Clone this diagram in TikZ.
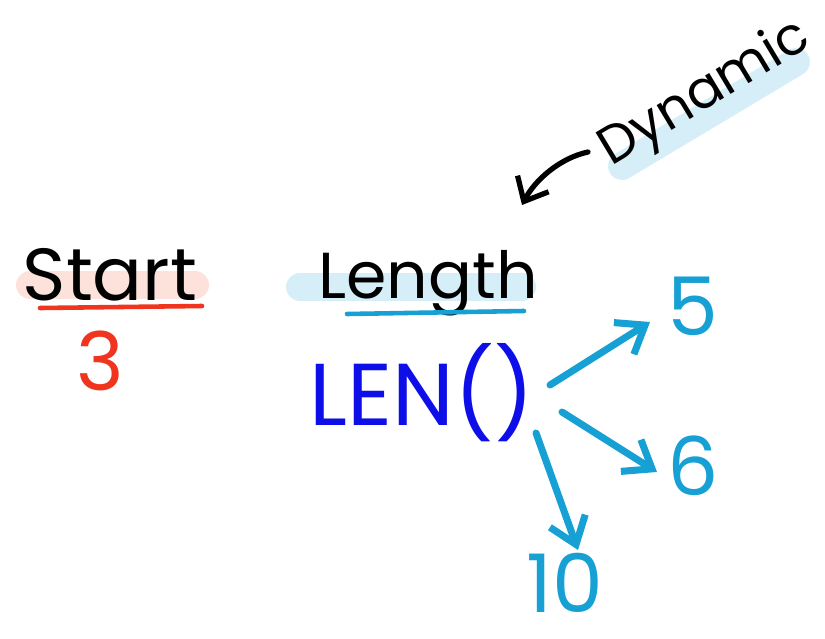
\documentclass[tikz,border=0pt]{standalone}
\usepackage{fontspec}
\setmainfont{Poppins}
\usepackage{tikz}
\usetikzlibrary{positioning,arrows.meta}
\definecolor{inkred}{RGB}{240,52,30}
\definecolor{inkblue}{RGB}{14,14,232}
\definecolor{inkcyan}{RGB}{22,160,212}
\definecolor{hlpink}{RGB}{252,226,218}
\definecolor{hlblue}{RGB}{214,238,248}
\tikzset{
  word/.style={font=\fontsize{42}{48}\selectfont, text=black, inner sep=0pt, anchor=base},
  num/.style={font=\fontsize{46}{52}\selectfont, text=inkcyan, inner sep=0pt, anchor=base},
  hl/.style={line width=0.56cm, line cap=round},
  uline/.style={line width=2.6pt, line cap=round},
  arr/.style={-{Straight Barb[length=5mm,width=7.5mm]}, line width=4pt, draw=inkcyan, line cap=round, line join=round},
  darr/.style={-{Straight Barb[length=4mm,width=7mm]}, line width=3pt, draw=black, line cap=round, line join=round},
}

\begin{document}
\begin{tikzpicture}[x=0.02cm, y=-0.02cm]
    \useasboundingbox (0,0) rectangle (825,639);
    % highlight bands
    \draw[hl, hlpink] (30,285) -- (195,285);
    \draw[hl, hlblue] (300,287) -- (522,287);
    \draw[hl, hlblue] (622,166) -- (796,62);
    % start column
    \node[word] (start) at (110,300) {Start};
    \draw[uline, inkred] (40,308) -- (202,306);
    \node[num, text=inkred] (three) at (100,390) {3};
    % length column
    \node[word, font=\fontsize{37}{44}\selectfont] (length) at (428,298) {Length};
    \draw[uline, inkcyan] (347,314) -- (524,311);
    \node[num, text=inkblue, font=\fontsize{50}{56}\selectfont] (len) at (422,425) {LEN()};
    % dynamic note
    \node[word, rotate=31, font=\fontsize{30}{36}\selectfont] (dyn) at (712,106) {Dynamic};
    \coordinate (dynfrom) at (588,152);
    \coordinate (dynto) at (522,205);
    \draw[darr] (dynfrom) .. controls (560,158) and (535,180) .. (dynto);
    % results
    \node[num] (five) at (693,335) {5};
    \node[num] (six) at (693,495) {6};
    \node[num] (ten) at (565,612) {10};
    \coordinate (a1) at (550,385);
    \coordinate (b1) at (650,322);
    \coordinate (a2) at (562,412);
    \coordinate (b2) at (657,472);
    \coordinate (a3) at (536,433);
    \coordinate (b3) at (578,550);
    \foreach \s/\e in {a1/b1,a2/b2,a3/b3}{\draw[arr] (\s) -- (\e);}
  \end{tikzpicture}
\end{document}
